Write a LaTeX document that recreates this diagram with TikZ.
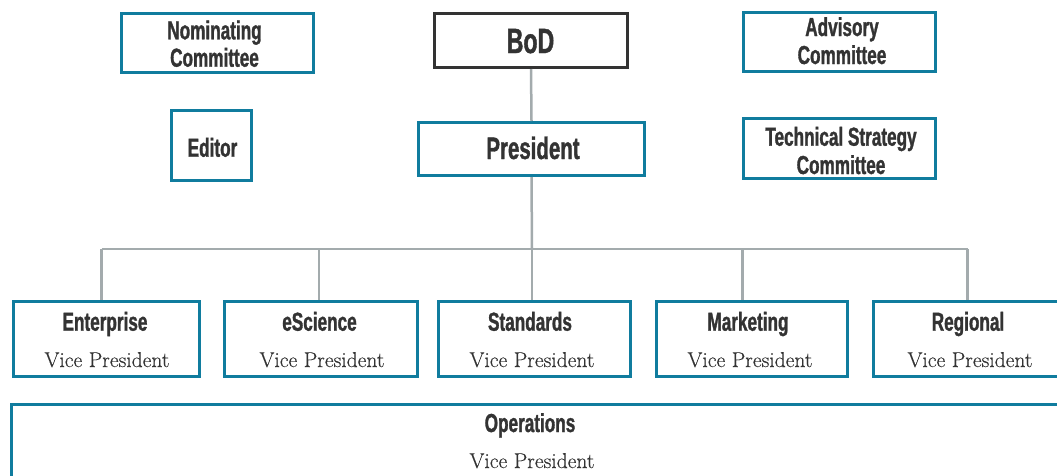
\documentclass[tikz,border=0pt]{standalone}
\usepackage{fontspec}
\newfontfamily\headfont{Liberation Sans}[FakeStretch=0.66,FakeBold=1.2]
\newfontfamily\vpfont{Latin Modern Roman}[FakeBold=0.35]
\definecolor{teal1}{RGB}{16,124,158}
\definecolor{txt}{RGB}{51,51,51}
\definecolor{conn}{RGB}{163,171,173}
\tikzset{
  box/.style={draw=teal1, line width=3pt, inner sep=0pt, fill=white},
  darkbox/.style={draw=txt, line width=3pt, inner sep=0pt, fill=white},
  hd/.style={anchor=base, inner sep=0pt, text=txt, font=\headfont\bfseries\fontsize{26}{28}\selectfont},
  vp/.style={anchor=base, inner sep=0pt, text=txt, font=\vpfont\fontsize{21.5}{24}\selectfont},
  link/.style={draw=conn, line width=2.5pt}
}
\begin{document}
\begin{tikzpicture}[x=1pt,y=-1pt]
\useasboundingbox (0,0) rectangle (1057,475);
\clip (0,0) rectangle (1057,475);
% connectors
\coordinate (d1) at (101.5,249);
\coordinate (d2) at (319,249);
\coordinate (d3) at (532,249);
\coordinate (d4) at (742.5,249);
\coordinate (d5) at (967.5,249);
% top boxes
\node[box, minimum width=192, minimum height=59] (nom) at (217.5,43) {};
\node[darkbox, minimum width=193, minimum height=54] (bod) at (531,40.5) {};
\node[box, minimum width=192, minimum height=59] (adv) at (839.5,42) {};
\node[box, minimum width=80, minimum height=70] (edi) at (211.5,145.5) {};
\node[box, minimum width=226, minimum height=53] (pres) at (531.5,149) {};
\node[box, minimum width=192, minimum height=60] (tech) at (839.5,148.5) {};
% VP boxes
\node[box, minimum width=186, minimum height=75] (ent) at (106.5,339) {};
\node[box, minimum width=193, minimum height=75] (esc) at (321,339) {};
\node[box, minimum width=192, minimum height=75] (std) at (534.5,339) {};
\node[box, minimum width=191, minimum height=75] (mkt) at (752,339) {};
\node[box, minimum width=193, minimum height=75] (reg) at (970,339) {};
\node[box, minimum width=1063, minimum height=90] (ops) at (543,449) {};
% links
\draw[link] (bod.south) -- (pres.north);
\draw[link] (pres.south) -- (d3);
\draw[link] (d1) -- (d5);
\draw[link] (d1) -- (d1 |- ent.north);
\draw[link] (d2) -- (d2 |- esc.north);
\draw[link] (d3) -- (d3 |- std.north);
\draw[link] (d4) -- (d4 |- mkt.north);
\draw[link] (d5) -- (d5 |- reg.north);
% texts
\node[hd] (tnom1) at (214.5,39.3) {Nominating};
\node[hd] (tnom2) at (214.5,66.7) {Committee};
\node[hd, font=\headfont\bfseries\fontsize{35}{38}\selectfont] (tbod) at (530.5,53) {BoD};
\node[hd] (tadv1) at (842,36) {Advisory};
\node[hd] (tadv2) at (842,64) {Committee};
\node[hd] (tedi) at (212.5,156.7) {Editor};
\node[hd, font=\headfont\bfseries\fontsize{31}{34}\selectfont] (tpres) at (533,159) {President};
\node[hd] (ttech1) at (841,145.7) {Technical Strategy};
\node[hd] (ttech2) at (841,174) {Committee};
\node[hd] (tent) at (105,330.7) {Enterprise};
\node[vp] (vent) at (107,367) {Vice President};
\node[hd] (tesc) at (319.5,330.7) {eScience};
\node[vp] (vesc) at (322,367) {Vice President};
\node[hd] (tstd) at (530,330.7) {Standards};
\node[vp] (vstd) at (532,367) {Vice President};
\node[hd] (tmkt) at (748,330.7) {Marketing};
\node[vp] (vmkt) at (750,367) {Vice President};
\node[hd] (treg) at (968,330.7) {Regional};
\node[vp] (vreg) at (970,367) {Vice President};
\node[hd] (tops) at (530,432) {Operations};
\node[vp] (vops) at (532,468) {Vice President};
\end{tikzpicture}
\end{document}
